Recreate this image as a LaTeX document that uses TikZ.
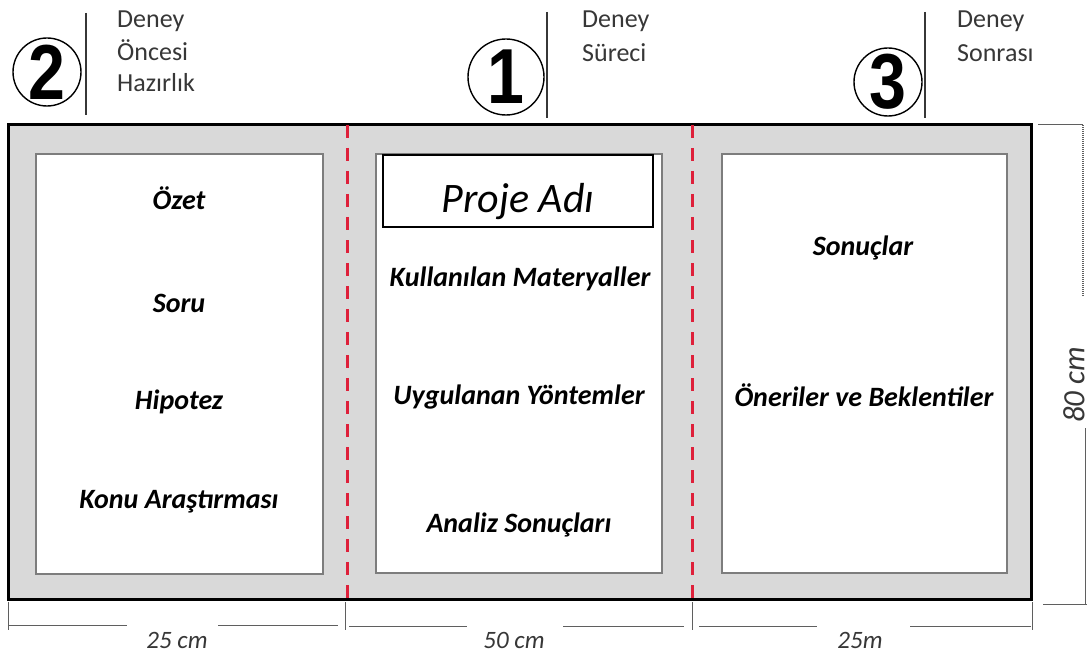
\documentclass[tikz,border=0pt]{standalone}
\usepackage{fontspec}
\setmainfont{Carlito}
\newfontfamily\digitfont{Liberation Sans}
\usetikzlibrary{positioning}
\definecolor{boardgray}{RGB}{217,217,217}
\definecolor{panelline}{RGB}{125,125,125}
\definecolor{cutred}{RGB}{222,32,58}
\definecolor{stagetext}{RGB}{55,55,55}
\tikzstyle{panel}=[draw=panelline, line width=1.2pt, fill=white]
\tikzstyle{item}=[font=\fontsize{28}{32}\selectfont\bfseries\itshape, inner sep=0pt]
\tikzstyle{circnum}=[circle, draw, line width=1.4pt, inner sep=0pt, font=\fontsize{78}{80}\selectfont\digitfont\bfseries]
\tikzstyle{stage}=[anchor=base west, text=stagetext, font=\fontsize{26}{30}\selectfont, inner sep=0pt]
\tikzstyle{dimlabel}=[font=\fontsize{25}{28}\selectfont\itshape, text=stagetext, inner sep=0pt]
\tikzstyle{dimline}=[stagetext!80, line width=1pt]
\tikzstyle{cut}=[cutred, line width=3pt, dash pattern=on 13pt off 10pt]

\begin{document}
\begin{tikzpicture}[x=1pt,y=-1pt]
   \useasboundingbox (0,0) rectangle (1092,655);
   % board and panels
   \draw[fill=boardgray, line width=3pt] (8,125) rectangle (1031,599);
   \draw[panel] (36,154) rectangle (323,574);
   \draw[panel] (376,154) rectangle (662,573);
   \draw[panel] (722,154) rectangle (1007,573);
   \draw[cut] (347,125) -- (347,599);
   \draw[cut] (692,125) -- (692,599);

   % stages
   \node[circnum, minimum size=68pt] (c2) at (47,72) {\scalebox{0.85}[1]{2}};
   \node[circnum, minimum size=76pt] (c1) at (506,77) {\scalebox{0.85}[1]{1}};
   \node[circnum, minimum size=68pt] (c3) at (888,82) {\scalebox{0.85}[1]{3}};
   \draw[stagetext, line width=1.3pt] (86,13) -- (86,115);
   \draw[stagetext, line width=1.3pt] (547,12) -- (547,118);
   \draw[stagetext, line width=1.3pt] (925,12) -- (925,118);
   \node[stage] (s2a) at (117,28) {Deney};
   \node[stage] (s2b) at (117,61) {Öncesi};
   \node[stage] (s2c) at (117,92) {Hazırlık};
   \node[stage] (s1a) at (582,28) {Deney};
   \node[stage] (s1b) at (582,62) {Süreci};
   \node[stage] (s3a) at (957,28) {Deney};
   \node[stage] (s3b) at (957,62) {Sonrası};

   % left panel
   \node[item] (ozet) at (179,198) {Özet};
   \node[item] (soru) at (179,303) {Soru};
   \node[item] (hipotez) at (179,402) {Hipotez};
   \node[item] (konu) at (179,502) {Konu Araştırması};

   % middle panel
   \node[draw, line width=1.3pt, fill=white, minimum width=270pt, minimum height=72pt] (titlebox) at (518,191) {};
   \node[anchor=base, inner sep=0pt, font=\fontsize{42}{46}\selectfont\itshape] (title) at (518,212) {Proje Adı};
   \node[item] (materyal) at (520,279) {Kullanılan Materyaller};
   \node[item] (yontem) at (519,397) {Uygulanan Yöntemler};
   \node[item] (analiz) at (519,525) {Analiz Sonuçları};

   % right panel
   \node[item] (sonuc) at (863,248) {Sonuçlar};
   \node[item] (oneri) at (864,395) {Öneriler ve Beklentiler};

   % bottom dimensions
   \foreach \x/\n in {8/b0, 345/b1, 692/b2, 1032/b3}
      \draw[dimline] (\x,602) -- (\x,630) coordinate (\n);
   \draw[dimline] (8,625) -- (127,625);
   \draw[dimline] (218,625) -- (338,625);
   \draw[dimline] (349,626) -- (467,626);
   \draw[dimline] (563,626) -- (684,626);
   \draw[dimline] (699,626) -- (817,626);
   \draw[dimline] (910,626) -- (1031,626);
   \node[dimlabel] (w1) at (177,640) {25 cm};
   \node[dimlabel] (w2) at (514,640) {50 cm};
   \node[dimlabel] (w3) at (860,640) {25m};

   % right dimension
   \draw[dimline] (1038,125) -- (1083,125);
   \draw[dimline, line width=1.6pt, dash pattern=on 1pt off 1pt] (1083,125) -- (1083,297);
   \node[dimlabel, rotate=90, font=\fontsize{31}{34}\selectfont\itshape] (h1) at (1074,385) {80 cm};
   \draw[dimline] (1085,428) -- (1085,604);
   \draw[dimline] (1043,604) -- (1087,604);
\end{tikzpicture}
\end{document}
